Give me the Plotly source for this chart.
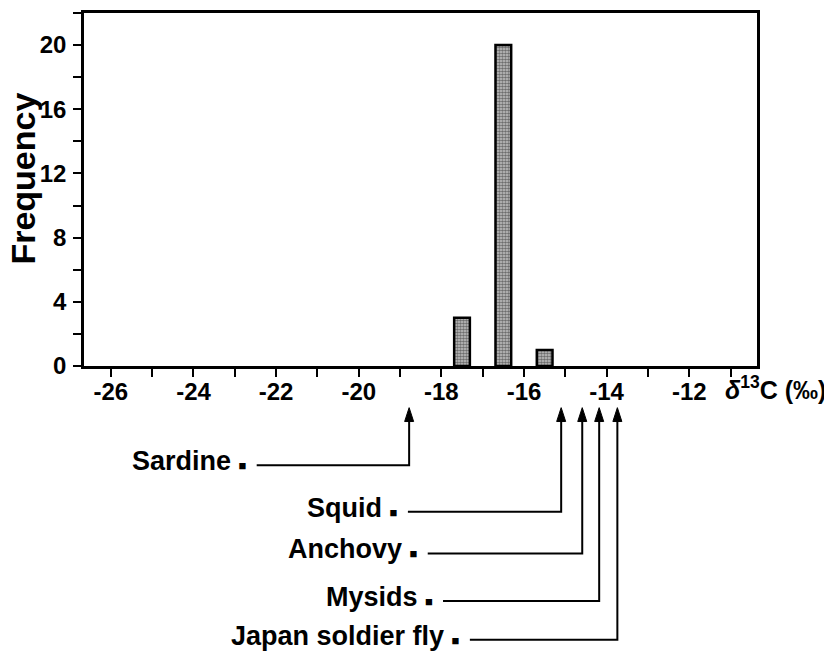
import plotly.graph_objects as go

# ---- data ----
bin_centers = [-17.5, -16.5, -15.5]
counts = [3, 20, 1]

prey_names = ["Sardine", "Squid", "Anchovy", "Mysids", "Japan soldier fly"]
prey_d13c = [-18.78, -15.10, -14.59, -14.18, -13.74]

x_tick_vals = [-26, -24, -22, -20, -18, -16, -14, -12]
x_tick_labels = ["-26", "-24", "-22", "-20", "-18", "-16", "-14", "-12"]
y_tick_vals = [0, 4, 8, 12, 16, 20]
y_tick_labels = ["0", "4", "8", "12", "16", "20"]

# ---- layout constants (screen px of the 832x658 view; page body has 8px margin) ----
BODY = 8
W, H = 832 - BODY, 658 - BODY
PL, PR, PT, PB = 84, 757, 10, 366          # plot box on screen
ML, MR, MT, MB = PL - BODY, W - (PR - BODY), PT - BODY, H - (PB - BODY)
XR = [-26.65, -10.36]
YR = [0, 22]
FONT = "Liberation Sans, Arial, Helvetica, sans-serif"
X_PER_PX = (XR[1] - XR[0]) / (PR - PL)


def py_to_paper(py):
    return (PB - py) / (PB - PT)


def px_to_paper(px):
    return (px - PL) / (PR - PL)


row_px = [466, 513, 555, 603, 642]
tip_px = 408
head_len_px, head_half_px = 14, 4.5
line_start_x = [-22.47, -18.81, -18.33, -17.96, -17.31]

fig = go.Figure()
fig.add_trace(go.Bar(
    x=bin_centers, y=counts, width=0.38,
    marker=dict(
        color="#a0a0a0",
        line=dict(color="black", width=2.5),
        pattern=dict(shape=".", fgcolor="#111111", bgcolor="#c8c8c8",
                     size=3, solidity=0.6),
    ),
    hoverinfo="skip",
))

shapes = []
annotations = []
ty = py_to_paper(tip_px)
hb = py_to_paper(tip_px + head_len_px)
hw = head_half_px * X_PER_PX
for name, val, rpx, xs in zip(prey_names, prey_d13c, row_px, line_start_x):
    ry = py_to_paper(rpx)
    shapes.append(dict(
        type="path", xref="x", yref="paper",
        path=f"M {xs},{ry} L {val},{ry} L {val},{hb}",
        line=dict(color="black", width=2),
    ))
    shapes.append(dict(
        type="path", xref="x", yref="paper",
        path=f"M {val - hw},{hb} L {val},{ty} L {val + hw},{hb} Z",
        fillcolor="black", line=dict(color="black", width=1),
    ))
    annotations.append(dict(
        x=xs, y=ry, xref="x", yref="paper", xanchor="right",
        yanchor="middle", xshift=-8, yshift=4, showarrow=False,
        text=f'<b>{name} <span style="font-size:13px">■</span></b>',
        font=dict(family=FONT, size=27, color="black"),
    ))

annotations.append(dict(
    x=px_to_paper(23), y=py_to_paper(177), xref="paper",
    yref="paper", textangle=-90, showarrow=False, xanchor="center",
    yanchor="middle", text="<b>Frequency</b>",
    font=dict(family=FONT, size=34, color="black"),
))
annotations.append(dict(
    x=px_to_paper(723), y=py_to_paper(388), xref="paper",
    yref="paper", xanchor="left", yanchor="middle", showarrow=False,
    text="<b><i>δ</i><sup>13</sup>C (‰)</b>",
    font=dict(family=FONT, size=25, color="black"),
))

axis_common = dict(
    showline=True, linecolor="black", linewidth=2.5, mirror=True,
    ticks="outside", ticklen=8, tickwidth=2, tickcolor="black",
    showgrid=False, zeroline=False,
    tickfont=dict(family=FONT, size=24, color="black", weight="bold"),
)

fig.update_layout(
    width=W, height=H, autosize=False,
    margin=dict(l=ML, r=MR, t=MT, b=MB, pad=0),
    paper_bgcolor="white", plot_bgcolor="white",
    showlegend=False,
    xaxis=dict(range=XR, tickmode="array", tickvals=x_tick_vals,
               ticktext=x_tick_labels, ticklabelstandoff=-6,
               minor=dict(ticks="outside", ticklen=8, tickwidth=2,
                          tickcolor="black", dtick=1, tick0=0,
                          showgrid=False),
               **axis_common),
    yaxis=dict(range=YR, tickmode="array", tickvals=y_tick_vals,
               ticktext=y_tick_labels, ticklabelstandoff=2,
               minor=dict(ticks="outside", ticklen=8, tickwidth=2,
                          tickcolor="black", dtick=2, tick0=0,
                          showgrid=False),
               **axis_common),
    shapes=shapes,
    annotations=annotations,
)

fig.write_html("out.html")
